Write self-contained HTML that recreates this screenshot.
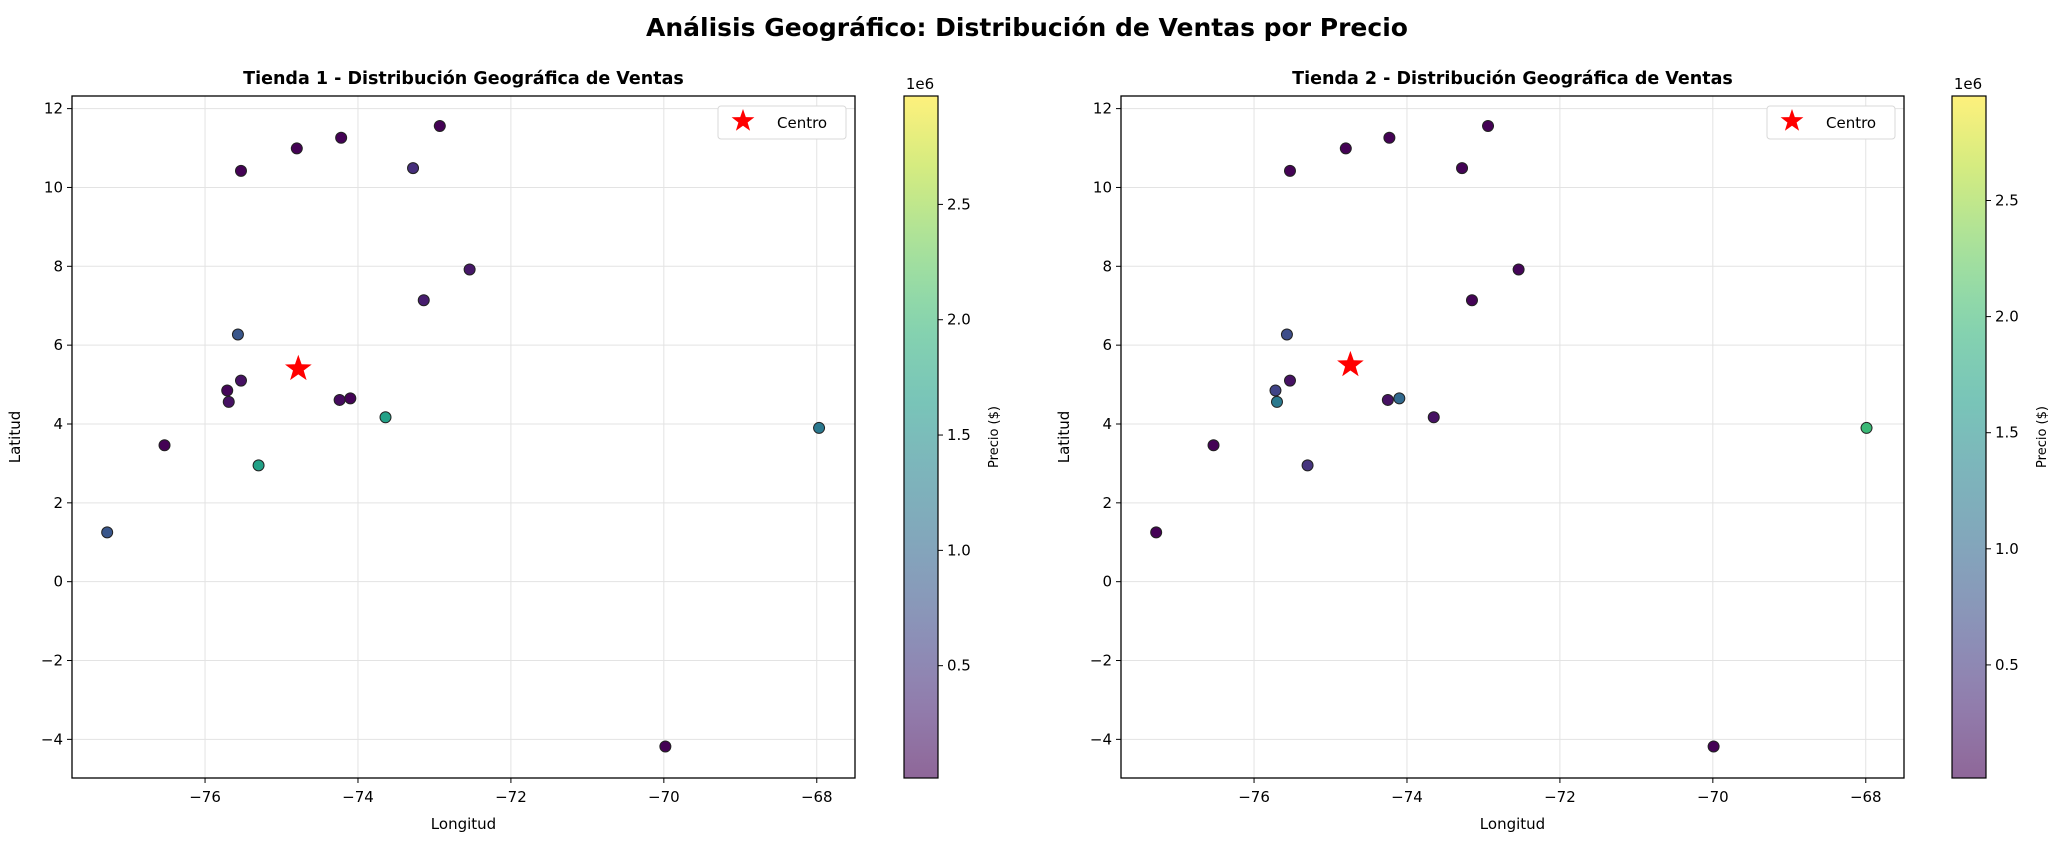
<!DOCTYPE html>
<html><head><meta charset="utf-8">
<style>
html,body{margin:0;padding:0;background:#fff;}
svg text{font-family:"DejaVu Sans","Liberation Sans",sans-serif;fill:#000;}
</style></head>
<body>
<svg id="chart" width="2054" height="842" viewBox="0 0 2054 842" xmlns="http://www.w3.org/2000/svg">
<text x="1027" y="36" text-anchor="middle" font-size="25" font-weight="bold">Análisis Geográfico: Distribución de Ventas por Precio</text>
<g id="panels"></g>
</svg>
<script>
// Tienda 1 data
const lon1 = [-77.28,-76.53,-75.71,-75.69,-75.57,-75.53,-75.53,-75.30,-74.80,-74.24,-74.10,-74.22,-73.64,-73.28,-73.14,-72.93,-72.54,-69.98,-67.97];
const lat1 = [1.25,3.46,4.85,4.56,6.27,5.10,10.42,2.95,10.99,4.61,4.65,11.26,4.17,10.49,7.14,11.56,7.92,-4.18,3.90];
const price1 = [0.8,0.02,0.05,0.15,0.8,0.15,0.02,1.7,0.02,0.1,0.03,0.02,1.7,0.4,0.25,0.02,0.2,0.02,1.2];
const center1 = [-74.78,5.40];
// Tienda 2 data
const lon2 = [-77.28,-76.53,-75.72,-75.70,-75.57,-75.53,-75.53,-75.30,-74.80,-74.25,-74.10,-74.23,-73.65,-73.28,-73.15,-72.94,-72.54,-69.99,-67.99];
const lat2 = [1.25,3.46,4.85,4.56,6.27,5.10,10.42,2.95,10.99,4.61,4.65,11.26,4.17,10.49,7.14,11.56,7.92,-4.18,3.90];
const price2 = [0.02,0.02,0.6,1.2,0.7,0.15,0.02,0.45,0.02,0.15,1.0,0.02,0.15,0.03,0.03,0.02,0.05,0.02,2.0];
const center2 = [-74.74,5.50];
const xTicks = [-76,-74,-72,-70,-68];
const xTickLabels = ["\u221276","\u221274","\u221272","\u221270","\u221268"];
const yTicks = [-4,-2,0,2,4,6,8,10,12];
const yTickLabels = ["\u22124","\u22122","0","2","4","6","8","10","12"];
const cTicks = [0.5,1.0,1.5,2.0,2.5];
const cTickLabels = ["0.5","1.0","1.5","2.0","2.5"];

const NS="http://www.w3.org/2000/svg";
const VIR=[[68,1,84],[72,40,120],[62,74,137],[49,104,142],[38,130,142],[31,158,137],[53,183,121],[109,205,89],[180,222,44],[253,231,37]];
function vir(t){t=Math.max(0,Math.min(1,t));const p=t*(VIR.length-1),i=Math.min(VIR.length-2,Math.floor(p)),f=p-i;
 const c=VIR[i].map((v,k)=>Math.round(v+(VIR[i+1][k]-v)*f));return `rgb(${c[0]},${c[1]},${c[2]})`;}
function mk(tag,attrs,parent){const e=document.createElementNS(NS,tag);for(const k in attrs)e.setAttribute(k,attrs[k]);parent.appendChild(e);return e;}
function star(cx,cy,R){const r=R*0.4;let pts=[];for(let i=0;i<10;i++){const a=-Math.PI/2+i*Math.PI/5,rr=i%2?r:R;pts.push((cx+rr*Math.cos(a)).toFixed(1)+","+(cy+rr*Math.sin(a)).toFixed(1));}return pts.join(" ");}

function panel(idx,ox,cbx,cmin,cmax,lon,lat,price,center){
 const root=document.getElementById('panels');
 const g=mk('g',{},root);
 
 
 const L=ox,R=ox+783,T=96,B=778, xmin=-77.74,xmax=-67.50,ymin=-4.98,ymax=12.32;
 const X=v=>L+(v-xmin)/(xmax-xmin)*(R-L), Y=v=>B-(v-ymin)/(ymax-ymin)*(B-T);
 const t=mk('text',{x:(L+R)/2,y:84,'text-anchor':'middle','font-size':'17.5','font-weight':'bold'},g);
 t.textContent='Tienda '+idx+' - Distribución Geográfica de Ventas';
 
 
 const grid=mk('g',{stroke:'#e3e3e3','stroke-width':1},g);
 
 
 xTicks.forEach((v,i)=>{mk('line',{x1:X(v),x2:X(v),y1:T,y2:B},grid);
  mk('line',{x1:X(v),x2:X(v),y1:B,y2:B+5,stroke:'#000'},g);
  const tx=mk('text',{x:X(v),y:B+24,'text-anchor':'middle','font-size':'15'},g);tx.textContent=xTickLabels[i];
  
  });
 yTicks.forEach((v,i)=>{mk('line',{x1:L,x2:R,y1:Y(v),y2:Y(v)},grid);
  mk('line',{x1:L-5,x2:L,y1:Y(v),y2:Y(v),stroke:'#000'},g);
  const tx=mk('text',{x:L-9,y:Y(v)+5,'text-anchor':'end','font-size':'15'},g);tx.textContent=yTickLabels[i];
  
  });
 const pts=mk('g',{},g);
 
 
 lon.forEach((v,i)=>{const c=mk('circle',{cx:X(v),cy:Y(lat[i]),r:5.5,fill:vir((price[i]-cmin)/(cmax-cmin)),'fill-opacity':1,stroke:'#222','stroke-width':1},pts);
  
  });
 const s=mk('polygon',{points:star(X(center[0]),Y(center[1]),14),fill:'#ff0000'},g);
 
 
 const fr=mk('rect',{x:L,y:T,width:R-L,height:B-T,fill:'none',stroke:'#000','stroke-width':1.3},g);
 
 
 const lg=mk('g',{},g);
 
 
 mk('rect',{x:R-137,y:106,width:128,height:33,rx:3,fill:'#fff',stroke:'#d8d8d8'},lg);
 mk('polygon',{points:star(R-112,121,12),fill:'#ff0000'},lg);
 const lt=mk('text',{x:R-78,y:128,'font-size':'15'},lg);lt.textContent='Centro';
 
 
 const xl=mk('text',{x:(L+R)/2,y:829,'text-anchor':'middle','font-size':'15'},g);xl.textContent='Longitud';
 
 
 const yl=mk('text',{x:0,y:0,'text-anchor':'middle','font-size':'15',transform:`translate(${L-52},437) rotate(-90)`},g);yl.textContent='Latitud';
 
 
 const cb=mk('g',{},g);
 
 
 const gid='grad'+idx;const defs=mk('defs',{},cb);const lgr=mk('linearGradient',{id:gid,x1:0,y1:1,x2:0,y2:0},defs);
 for(let k=0;k<=20;k++)mk('stop',{offset:k/20,'stop-color':vir(k/20),'stop-opacity':0.6},lgr);
 const CL=cbx,CR=cbx+34,C=v=>B-(v-cmin)/(cmax-cmin)*(B-T);
 mk('rect',{x:CL,y:T,width:CR-CL,height:B-T,fill:`url(#${gid})`,stroke:'#000','stroke-width':1.2},cb);
 cTicks.forEach((v,i)=>{mk('line',{x1:CR,x2:CR+5,y1:C(v),y2:C(v),stroke:'#000'},cb);
  const tx=mk('text',{x:CR+9,y:C(v)+5,'font-size':'15'},cb);tx.textContent=cTickLabels[i];
  
  });
 const e6=mk('text',{x:CL+16,y:89,'text-anchor':'middle','font-size':'15'},cb);e6.textContent='1e6';
 
 
 const ct=mk('text',{x:0,y:0,'text-anchor':'middle','font-size':'13',transform:`translate(${CR+60},437) rotate(-90)`},cb);ct.textContent='Precio ($)';
 
 
}
panel(1,72,904,0.013,2.97,lon1,lat1,price1,center1);
panel(2,1121,1952,0.013,2.95,lon2,lat2,price2,center2);
</script>
</body></html>
